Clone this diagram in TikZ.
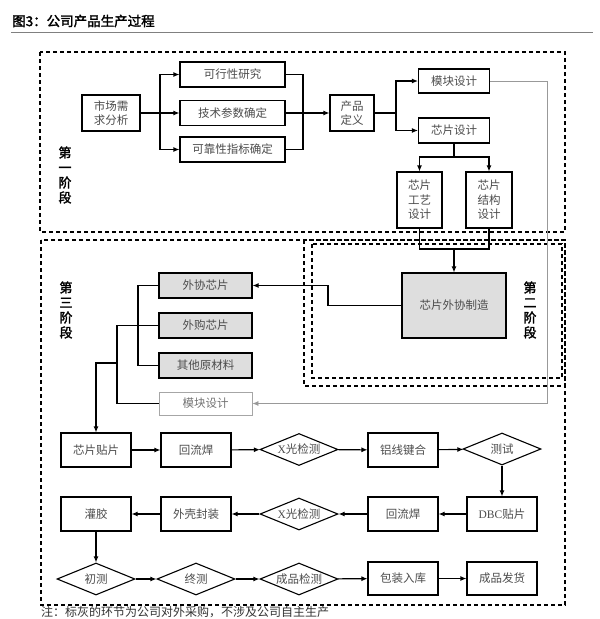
\documentclass[tikz,border=0pt]{standalone}
\usepackage{fontspec}
\setmainfont{Noto Sans CJK SC}[AutoFakeBold=2]
\newfontfamily\latin{Liberation Serif}
\usetikzlibrary{shapes.geometric,arrows.meta}
\pgfdeclarelayer{edgelayer}
\pgfdeclarelayer{nodelayer}
\pgfsetlayers{edgelayer,nodelayer,main}
\definecolor{lgray}{rgb}{0.87,0.87,0.87}
\definecolor{tgray}{rgb}{0.3,0.3,0.3}
\tikzstyle{box}=[rectangle, fill=white, draw=black, line width=1.1pt, text=tgray, font=\fontsize{11.5}{14.5}\selectfont, align=center, inner sep=0pt, minimum width=70pt, minimum height=34pt]
\tikzstyle{bought}=[box, fill=lgray]
\tikzstyle{faintbox}=[box, draw=black!35, line width=0.8pt, text=black!55]
\tikzstyle{check}=[diamond, aspect=2.4, fill=white, draw=black, line width=1.1pt, text=tgray, font=\fontsize{11.5}{14.5}\selectfont, inner sep=0pt, minimum width=78pt, minimum height=32pt]
\tikzstyle{frame}=[draw=black, line width=1.1pt, dash pattern=on 4pt off 3pt]
\tikzstyle{line}=[-, draw=black, line width=1.1pt]
\tikzstyle{arrow}=[-{Latex[length=6pt,width=5pt]}, draw=black, line width=1.1pt]
\tikzstyle{faint}=[-{Latex[length=6pt,width=5pt]}, draw=black!40, line width=0.8pt]
\tikzstyle{stagetext}=[font=\fontsize{13}{15}\selectfont\bfseries, align=center, text=black]

\begin{document}
\begin{tikzpicture}[x=1pt, y=-1pt]
            \useasboundingbox (0,0) rectangle (600,619);
            \begin{pgfonlayer}{nodelayer}
                \node [font=\fontsize{13.5}{16}\selectfont\bfseries, anchor=west, inner sep=0pt] (title) at (12,21) {图3：公司产品生产过程};
                \node [style=stagetext] (one) at (65,175) {第\\一\\阶\\段};
                \node [style=stagetext] (two) at (530,310) {第\\二\\阶\\段};
                \node [style=stagetext] (three) at (66,310) {第\\三\\阶\\段};
                % first stage
                \node [style=box, minimum width=58pt, minimum height=36pt] (demand) at (111,113) {市场需\\求分析};
                \node [style=box, minimum width=105pt, minimum height=25pt] (feasible) at (232.5,74.5) {可行性研究};
                \node [style=box, minimum width=105pt, minimum height=25pt] (param) at (232.5,113) {技术参数确定};
                \node [style=box, minimum width=105pt, minimum height=25pt] (reliab) at (232.5,149.5) {可靠性指标确定};
                \node [style=box, minimum width=44pt, minimum height=36pt] (define) at (352,113) {产品\\定义};
                \node [style=box, minimum width=71pt, minimum height=24pt] (module) at (454,81) {模块设计};
                \node [style=box, minimum width=71pt, minimum height=25pt] (chip) at (454,130.5) {芯片设计};
                \node [style=box, minimum width=45pt, minimum height=56pt] (process) at (419.5,200) {芯片\\工艺\\设计};
                \node [style=box, minimum width=46pt, minimum height=56pt] (struct) at (489,200) {芯片\\结构\\设计};
                % second and third stage
                \node [style=bought, minimum width=104pt, minimum height=65pt] (fab) at (454,305.5) {芯片外协制造};
                \node [style=bought, minimum width=93pt, minimum height=25pt] (outchip) at (205.5,285.5) {外协芯片};
                \node [style=bought, minimum width=93pt, minimum height=25pt] (buychip) at (205.5,325.5) {外购芯片};
                \node [style=bought, minimum width=93pt, minimum height=25pt] (other) at (205.5,365.5) {其他原材料};
                \node [style=faintbox, minimum width=93pt, minimum height=23pt] (module2) at (205.5,403.5) {模块设计};
                \node [style=box] (attach) at (96,450) {芯片贴片};
                \node [style=box] (reflowA) at (196,450) {回流焊};
                \node [style=check] (xrayA) at (299,449.5) {{\latin X}光检测};
                \node [style=box] (bond) at (403,450) {铝线键合};
                \node [style=check] (test) at (502,449) {测试};
                \node [style=box] (dbc) at (502,514) {{\latin DBC}贴片};
                \node [style=box] (reflowB) at (403,514) {回流焊};
                \node [style=check] (xrayB) at (299,514) {{\latin X}光检测};
                \node [style=box] (shell) at (196,514) {外壳封装};
                \node [style=box] (pot) at (96,514) {灌胶};
                \node [style=check] (first) at (96,579) {初测};
                \node [style=check] (final) at (196,579) {终测};
                \node [style=check] (qc) at (299,579) {成品检测};
                \node [style=box, minimum height=33pt] (pack) at (403,578.5) {包装入库};
                \node [style=box, minimum height=33pt] (ship) at (502,578.5) {成品发货};
                \node [anchor=north west, inner sep=0pt, font=\fontsize{12}{14}\selectfont, text=black!80] (note) at (41,606.5) {注：标灰的环节为公司对外采购，不涉及公司自主生产};
            \end{pgfonlayer}
            \begin{pgfonlayer}{edgelayer}
                \draw [draw=black!50, line width=0.8pt] (11,32) -- (593,32);
                \draw [style=frame] (40,52) rectangle (565,232);
                \draw [style=frame] (41,240) rectangle (565,605);
                \draw [style=frame] (304,240) rectangle (565,386);
                \draw [style=frame] (312,244) rectangle (562,378);
                \coordinate (fork1) at (160,113);
                \coordinate (join1) at (303,113);
                \coordinate (fork2) at (396,113);
                \coordinate (fork3) at (454,157);
                \coordinate (join2) at (454,249);
                \coordinate (bend1) at (328,305.5);
                \coordinate (bend2) at (547,81);
                \coordinate (bra1) at (138,285.5);
                \coordinate (bra2) at (117,325.5);
                \coordinate (feed) at (117,363);
                \draw [style=line] (demand) to (fork1);
                \draw [style=arrow] (fork1) |- (feasible);
                \draw [style=arrow] (fork1) to (param);
                \draw [style=arrow] (fork1) |- (reliab);
                \draw [style=line] (feasible) -| (join1);
                \draw [style=line] (reliab) -| (join1);
                \draw [style=arrow] (param) to (define);
                \draw [style=line] (define) to (fork2);
                \draw [style=arrow] (fork2) |- (module);
                \draw [style=arrow] (fork2) |- (chip);
                \draw [style=line] (chip) to (fork3);
                \draw [style=arrow] (fork3) -| (process);
                \draw [style=arrow] (fork3) -| (struct);
                \draw [style=line] (process) |- (join2);
                \draw [style=line] (struct) |- (join2);
                \draw [style=arrow] (join2) to (fab);
                \draw [style=arrow] (fab) -- (bend1) |- (outchip);
                \draw [style=faint] (module) -- (bend2) |- (module2);
                \draw [style=line] (outchip) -- (bra1) |- (other);
                \draw [style=line] (buychip) -- (bra2) |- (module2);
                \draw [style=arrow] (feed) -| (attach);
                \draw [style=arrow] (attach) to (reflowA);
                \draw [style=arrow] (reflowA) to (xrayA);
                \draw [style=arrow] (xrayA) to (bond);
                \draw [style=arrow] (bond) to (test);
                \draw [style=arrow] (test) to (dbc);
                \draw [style=arrow] (dbc) to (reflowB);
                \draw [style=arrow] (reflowB) to (xrayB);
                \draw [style=arrow] (xrayB) to (shell);
                \draw [style=arrow] (shell) to (pot);
                \draw [style=arrow] (pot) to (first);
                \draw [style=arrow] (first) to (final);
                \draw [style=arrow] (final) to (qc);
                \draw [style=arrow] (qc) to (pack);
                \draw [style=arrow] (pack) to (ship);
            \end{pgfonlayer}
        \end{tikzpicture}
\end{document}
